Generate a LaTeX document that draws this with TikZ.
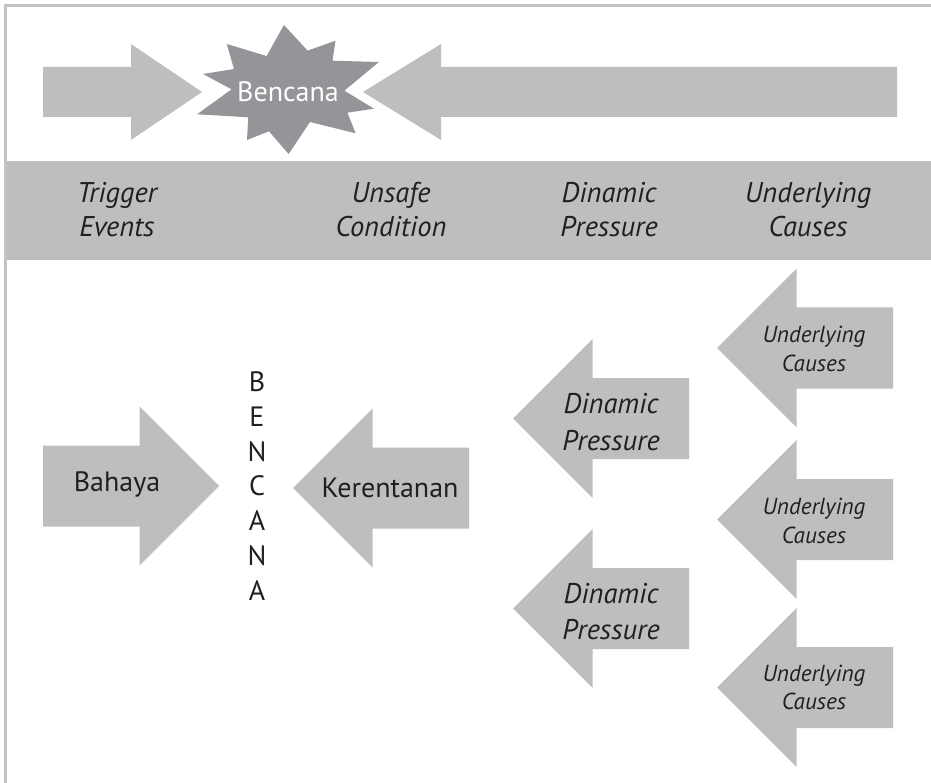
\documentclass[tikz,border=0pt]{standalone}
\usepackage{fontspec}
\setmainfont{PT Sans}
\definecolor{shapegray}{HTML}{BCBEC0}
\definecolor{stargray}{HTML}{939598}
\definecolor{framegray}{HTML}{C2C3C6}
\definecolor{inkblack}{HTML}{231F20}
\tikzset{
  pics/bigarrow/.style={code={
    \fill[shapegray] (0,0) -- (79.5,-79.5) -- (79.5,-40.5) -- (176,-40.5)
      -- (176,40.5) -- (79.5,40.5) -- (79.5,79.5) -- cycle;
  }},
  every node/.style={inner sep=0pt, text=inkblack},
  bandlabel/.style={font=\fontsize{28.5}{34}\selectfont\itshape, align=center},
  plainlabel/.style={font=\fontsize{28}{34}\selectfont},
  dplabel/.style={font=\fontsize{28.5}{36.5}\selectfont\itshape, align=center},
  uclabel/.style={font=\fontsize{23.2}{28.3}\selectfont\itshape, align=center},
}
\begin{document}
\begin{tikzpicture}[x=1pt,y=-1pt]
\useasboundingbox (0,0) rectangle (931,783);

% frame and heading band
\draw[framegray, line width=2.7pt] (5.3,783) -- (5.3,5.3) -- (931,5.3);
\fill[shapegray] (7,161.5) rectangle (931,260.5);

% top row: two arrows pressing on the disaster star
\fill[shapegray] (43,67) -- (131,67) -- (131,44) -- (202,92) -- (131,140)
  -- (131,117) -- (43,117) -- cycle;
\fill[shapegray] (363,92) -- (441,44) -- (441,67) -- (897,67) -- (897,117)
  -- (441,117) -- (441,140) -- cycle;
\fill[stargray] (284,25) -- (307.6,50.7) -- (335.5,40.7) -- (332.5,60.7)
  -- (378.9,62) -- (344.4,90.7) -- (374,108.7) -- (347.4,112.7)
  -- (355.7,133.3) -- (310,122) -- (288.6,154) -- (269,131.3)
  -- (247,140) -- (248.2,117.3) -- (197.1,114.3) -- (231.6,89.3)
  -- (203,74) -- (234,69) -- (226.8,44) -- (266.6,56) -- cycle;
\node[plainlabel, text=white] (star) at (288,92) {Bencana};

% band headings
\node[bandlabel] (trigger) at (117,210) {Trigger\\Events};
\node[bandlabel] (unsafe) at (391,210) {Unsafe\\Condition};
\node[bandlabel] (dynamic) at (609,210) {Dinamic\\Pressure};
\node[bandlabel] (underlying) at (808,210) {Underlying\\Causes};

% lower part: hazard and vulnerability meeting at the disaster
\pic[xscale=-1] at (219,486) {bigarrow};
\node[plainlabel] (hazard) at (117,484) {Bahaya};
\node[plainlabel, align=center, font=\fontsize{28}{34.7}\selectfont]
  (disaster) at (257,486) {B\\E\\N\\C\\A\\N\\A};
\pic at (293,488) {bigarrow};
\node[plainlabel] (vulner) at (390,488) {Kerentanan};

\pic at (513,418.5) {bigarrow};
\node[dplabel] (dp1) at (611,422) {Dinamic\\Pressure};
\pic at (513,608.5) {bigarrow};
\node[dplabel] (dp2) at (611,611.5) {Dinamic\\Pressure};

\pic at (717,348) {bigarrow};
\node[uclabel] (uc1) at (814,349) {Underlying\\Causes};
\pic at (717,519.5) {bigarrow};
\node[uclabel] (uc2) at (814,521) {Underlying\\Causes};
\pic at (717,687.5) {bigarrow};
\node[uclabel] (uc3) at (814,687.5) {Underlying\\Causes};
\end{tikzpicture}
\end{document}
